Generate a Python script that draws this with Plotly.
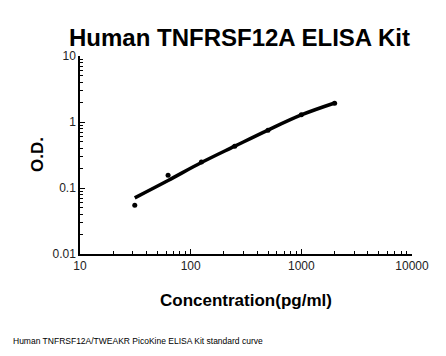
import plotly.graph_objects as go

# Standard points (concentration pg/ml, O.D.)
conc = [31.25, 62.5, 125, 250, 500, 1000, 2000]
od = [0.055, 0.156, 0.248, 0.428, 0.748, 1.29, 1.92]

# Fitted standard curve
curve_conc = [31.25, 62.5, 125, 250, 500, 1000, 2000]
curve_od = [0.071, 0.13, 0.243, 0.43, 0.755, 1.28, 1.94]

x_ticks = [10, 100, 1000, 10000]
x_tick_labels = ["10", "100", "1000", "10000"]
y_ticks = [0.01, 0.1, 1, 10]
y_tick_labels = ["0.01", "0.1", "1", "10"]

title = "Human TNFRSF12A ELISA Kit"
x_title = "Concentration(pg/ml)"
y_title = "O.D."
caption = "Human TNFRSF12A/TWEAKR PicoKine ELISA Kit standard curve"

fig = go.Figure()
fig.add_trace(go.Scatter(x=curve_conc, y=curve_od, mode="lines",
                         line=dict(color="black", width=3.5, shape="spline"),
                         hoverinfo="skip", showlegend=False))
fig.add_trace(go.Scatter(x=conc, y=od, mode="markers",
                         marker=dict(color="black", size=5),
                         showlegend=False))

axis_common = dict(type="log", showgrid=False, zeroline=False, showline=True,
                   linecolor="black", linewidth=1.5, ticks="inside", ticklen=5,
                   tickcolor="black", tickwidth=1,
                   tickfont=dict(family="Liberation Sans, Arial", size=12, color="#222"),
                   minor=dict(ticks="inside", ticklen=3, tickcolor="black", dtick="D1", showgrid=False))

fig.update_xaxes(range=[1, 4], tickmode="array", tickvals=x_ticks, ticktext=x_tick_labels,
                 mirror=False, **axis_common)
fig.update_yaxes(range=[-2, 1], tickmode="array", tickvals=y_ticks, ticktext=y_tick_labels,
                 mirror=False, **axis_common)

fig.update_layout(
    width=438, height=348,
    margin=dict(l=72, r=34, t=48, b=102),
    paper_bgcolor="white", plot_bgcolor="white",
    annotations=[
        dict(text="<b>" + title + "</b>", xref="paper", yref="paper", x=0.48, y=1.0,
             xanchor="center", yanchor="bottom", yshift=3, showarrow=False,
             font=dict(family="Liberation Sans, Arial", size=24, color="black")),
        dict(text="<b>" + x_title + "</b>", xref="paper", yref="paper", x=0.5, y=0,
             xanchor="center", yanchor="middle", yshift=-46, showarrow=False,
             font=dict(family="Liberation Sans, Arial", size=17, color="black")),
        dict(text="<b>" + y_title + "</b>", xref="paper", yref="paper", x=0, y=0.5,
             xanchor="center", yanchor="middle", xshift=-43, textangle=-90, showarrow=False,
             font=dict(family="Liberation Sans, Arial", size=17, color="black")),
        dict(text=caption, xref="paper", yref="paper", x=0, y=0,
             xanchor="left", yanchor="middle", xshift=-69, yshift=-87, showarrow=False,
             font=dict(family="Liberation Sans, Arial", size=8.5, color="black")),
    ],
)

fig.write_html("out.html")
